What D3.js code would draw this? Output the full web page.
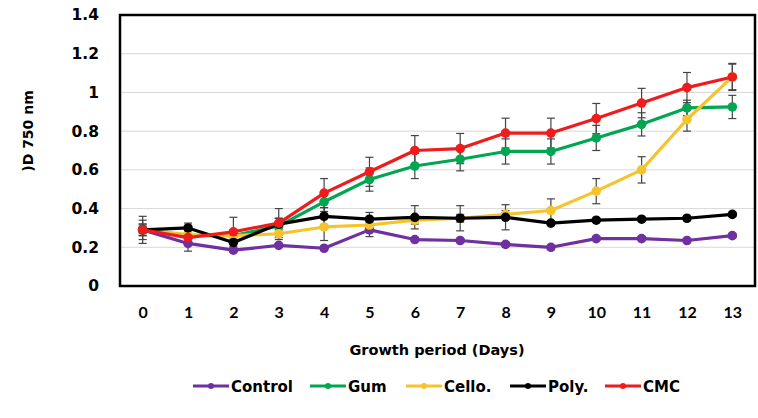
<!DOCTYPE html>
<html>
<head>
<meta charset="utf-8">
<script src="https://cdn.jsdelivr.net/npm/d3@7"></script>
<style>
  html, body { margin: 0; padding: 0; background: #fff; }
  svg { display: block; font-family: "DejaVu Sans", sans-serif; font-weight: 700; }
</style>
</head>
<body>
<svg id="chart" width="758" height="418"></svg>
<script>
// Growth period (days) on the x axis
const days = [0, 1, 2, 3, 4, 5, 6, 7, 8, 9, 10, 11, 12, 13];
const yTicks = [0, 0.2, 0.4, 0.6, 0.8, 1, 1.2, 1.4];

// Optical density at 750 nm per treatment, with standard deviations
const control    = [0.29, 0.22, 0.185, 0.21, 0.195, 0.29, 0.24, 0.235, 0.215, 0.2, 0.245, 0.245, 0.235, 0.26];
const controlErr = [0.02, 0.04, 0.01, 0.01, 0.01, 0.035, 0.01, 0.01, 0.01, 0.01, 0.01, 0.01, 0.01, 0.01];
const gum        = [0.29, 0.26, 0.26, 0.31, 0.435, 0.55, 0.62, 0.655, 0.695, 0.695, 0.765, 0.835, 0.92, 0.925];
const gumErr     = [0.03, 0.03, 0.03, 0.04, 0.05, 0.06, 0.065, 0.06, 0.065, 0.065, 0.065, 0.06, 0.04, 0.06];
const cello      = [0.29, 0.265, 0.26, 0.27, 0.305, 0.315, 0.34, 0.35, 0.37, 0.39, 0.49, 0.6, 0.86, 1.08];
const celloErr   = [0.03, 0.02, 0.02, 0.03, 0.07, 0.02, 0.02, 0.02, 0.02, 0.06, 0.065, 0.068, 0.06, 0.07];
const poly       = [0.29, 0.3, 0.225, 0.32, 0.36, 0.345, 0.355, 0.35, 0.355, 0.325, 0.34, 0.345, 0.35, 0.37];
const polyErr    = [0.05, 0.025, 0.03, 0.03, 0.045, 0.035, 0.06, 0.065, 0.065, 0.01, 0.01, 0.01, 0.01, 0.01];
const cmc        = [0.29, 0.25, 0.28, 0.325, 0.48, 0.59, 0.70, 0.71, 0.79, 0.79, 0.865, 0.945, 1.025, 1.08];
const cmcErr     = [0.07, 0.03, 0.075, 0.075, 0.075, 0.075, 0.077, 0.078, 0.077, 0.077, 0.078, 0.076, 0.078, 0.066];

const seriesNames = ["Control", "Gum", "Cello.", "Poly.", "CMC"];
const seriesColors = ["#7030a0", "#00a650", "#f5c32c", "#000000", "#ee1c1c"];

const series = [
  { name: seriesNames[0], color: seriesColors[0], values: control, err: controlErr },
  { name: seriesNames[1], color: seriesColors[1], values: gum,     err: gumErr },
  { name: seriesNames[2], color: seriesColors[2], values: cello,   err: celloErr },
  { name: seriesNames[3], color: seriesColors[3], values: poly,    err: polyErr },
  { name: seriesNames[4], color: seriesColors[4], values: cmc,     err: cmcErr }
];

const svg = d3.select("#chart");
const plot = { left: 120, right: 755, top: 15, bottom: 286 };

const x = d3.scalePoint().domain(days).range([plot.left, plot.right]).padding(0.5);
const y = d3.scaleLinear().domain([0, 1.4]).range([plot.bottom, plot.top]);

// Horizontal gridlines
svg.append("g")
  .selectAll("line")
  .data(yTicks.filter(t => t > 0 && t < 1.4))
  .join("line")
  .attr("x1", plot.left).attr("x2", plot.right)
  .attr("y1", d => y(d)).attr("y2", d => y(d))
  .attr("stroke", "#d9d9d9").attr("stroke-width", 1);

// Y axis tick labels
const yAxis = svg.append("g")
  .attr("transform", `translate(${plot.left},0)`)
  .call(d3.axisLeft(y).tickValues(yTicks).tickSize(0).tickPadding(21)
    .tickFormat(d => d3.format("~g")(d)));
yAxis.select(".domain").remove();
yAxis.selectAll("text")
  .attr("font-family", "'DejaVu Sans', sans-serif").attr("font-weight", 700)
  .attr("font-size", 15.5).attr("fill", "#000");

// X axis tick labels
const xAxis = svg.append("g")
  .attr("transform", `translate(0,${plot.bottom})`)
  .call(d3.axisBottom(x).tickSize(0).tickPadding(21));
xAxis.select(".domain").remove();
xAxis.selectAll("text")
  .attr("font-family", "Lato, sans-serif").attr("font-weight", 700)
  .attr("font-size", 16).attr("fill", "#000");

// Axis titles
svg.append("text")
  .attr("x", 437)
  .attr("y", 355)
  .attr("text-anchor", "middle")
  .attr("font-size", 14.5).attr("fill", "#000")
  .text("Growth period (Days)");

svg.append("text")
  .attr("transform", "translate(33,131) rotate(-90)")
  .attr("text-anchor", "middle")
  .attr("font-size", 14).attr("fill", "#000")
  .text(")D 750 nm");

// Error bars
const capW = 4;
const errG = svg.append("g");
series.forEach(s => {
  const g = errG.append("g");
  days.forEach((d, i) => {
    const cx = x(d);
    const y0 = y(s.values[i] - s.err[i]);
    const y1 = y(s.values[i] + s.err[i]);
    g.append("line").attr("x1", cx).attr("x2", cx).attr("y1", y0).attr("y2", y1)
      .attr("stroke", "#444").attr("stroke-width", 1.2);
    [y0, y1].forEach(yy => g.append("line")
      .attr("x1", cx - capW).attr("x2", cx + capW).attr("y1", yy).attr("y2", yy)
      .attr("stroke", "#444").attr("stroke-width", 1.2));
  });
});

// Lines and markers
const line = d3.line().x((v, i) => x(days[i])).y(v => y(v));
series.forEach(s => {
  const g = svg.append("g");
  g.append("path").datum(s.values)
    .attr("d", line).attr("fill", "none")
    .attr("stroke", s.color).attr("stroke-width", 3.2)
    .attr("stroke-linejoin", "round");
  g.selectAll("circle").data(s.values).join("circle")
    .attr("cx", (v, i) => x(days[i])).attr("cy", v => y(v))
    .attr("r", 4.8).attr("fill", s.color);
});

// Plot frame
svg.append("rect")
  .attr("x", plot.left).attr("y", plot.top)
  .attr("width", plot.right - plot.left).attr("height", plot.bottom - plot.top)
  .attr("fill", "none").attr("stroke", "#000").attr("stroke-width", 2.5);

// Legend
const legendX = [193, 310, 406, 510, 605];
const legend = svg.append("g");
series.forEach((s, i) => {
  const g = legend.append("g").attr("transform", `translate(${legendX[i]},386)`);
  g.append("line").attr("x1", 0).attr("x2", 36).attr("y1", 0).attr("y2", 0)
    .attr("stroke", s.color).attr("stroke-width", 3);
  g.append("circle").attr("cx", 18).attr("cy", 0).attr("r", 3).attr("fill", s.color);
  g.append("text").attr("x", 38).attr("y", 5.5)
    .attr("font-size", 15).attr("fill", "#000")
    .text(s.name);
});
</script>
</body>
</html>
